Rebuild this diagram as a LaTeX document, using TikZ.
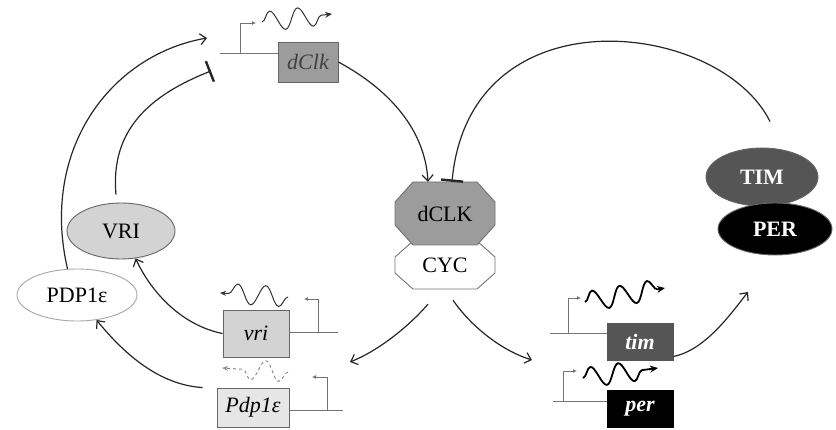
\documentclass[tikz,border=0pt]{standalone}
\usepackage{fontspec}
\setmainfont{Liberation Serif}
\usetikzlibrary{arrows.meta,decorations.pathmorphing,shapes.geometric,calc}
\definecolor{clkgray}{HTML}{9C9C9C}
\definecolor{vrigray}{HTML}{D3D3D3}
\definecolor{pdpgray}{HTML}{E6E6E6}
\definecolor{timgray}{HTML}{555555}
\begin{document}
\begin{tikzpicture}[x=1pt,y=-1pt,
  lbl/.style={font=\fontsize{22}{24}\selectfont, inner sep=0pt},
  gene/.style={draw=black!60, line width=0.9pt, inner sep=0pt, font=\fontsize{22}{24}\selectfont\itshape},
  prot/.style={ellipse, draw=black!60, line width=0.9pt, inner sep=0pt, font=\fontsize{22}{24}\selectfont},
  act/.style={draw=black!85, line width=1.2pt, -{Straight Barb[length=6pt,width=11pt]}},
  inh/.style={draw=black!85, line width=1.2pt, -{Bar[width=22pt,line width=2.4pt]}},
  prom/.style={draw=black!55, line width=0.9pt},
  promtip/.style={prom, -{Latex[length=4pt,width=4pt]}},
  wave/.style={decorate, decoration={snake, amplitude=10pt, segment length=28pt, post length=7pt}},
]
\useasboundingbox (0,0) rectangle (836,430);

% octagons
\filldraw[fill=white, draw=black!55, line width=0.9pt] (413,241) -- (477,241) -- (495,257) -- (495,273) -- (477,289) -- (413,289) -- (395,273) -- (395,257) -- cycle;
\filldraw[fill=clkgray, draw=black!55, line width=0.9pt] (413,182) -- (477,182) -- (495,202) -- (495,225) -- (477,245) -- (413,245) -- (395,225) -- (395,202) -- cycle;
\node[lbl, minimum width=100pt, minimum height=63pt] (dCLK) at (445,213.5) {dCLK};
\node[lbl, minimum width=100pt, minimum height=48pt] (CYC) at (445,265) {CYC};

% proteins
\node[prot, fill=timgray, minimum width=112pt, minimum height=58pt, text=white, font=\fontsize{22}{24}\selectfont\bfseries] (TIM) at (762,177) {TIM};
\node[prot, fill=black, minimum width=114pt, minimum height=52pt, text=white, font=\fontsize{22}{24}\selectfont\bfseries] (PER) at (775,229) {PER};
\node[prot, fill=vrigray, minimum width=108pt, minimum height=56pt] (VRI) at (121,231) {VRI};
\node[prot, fill=white, draw=black!35, minimum width=120pt, minimum height=52pt] (PDP) at (77,295) {PDP1ε};

% genes
\node[gene, fill=clkgray, text=black!75, minimum width=60pt, minimum height=40pt] (dClk) at (308,62) {dClk};
\node[gene, fill=vrigray, minimum width=66pt, minimum height=47pt] (vri) at (256,333.5) {vri};
\node[gene, fill=pdpgray, minimum width=72pt, minimum height=39pt] (pdp) at (253,407.5) {Pdp1ε};
\node[gene, fill=timgray, draw=timgray, text=white, font=\fontsize{22}{24}\selectfont\bfseries\itshape, minimum width=66pt, minimum height=37pt] (tim) at (640,341.5) {tim};
\node[gene, fill=black, draw=black, text=white, font=\fontsize{22}{24}\selectfont\bfseries\itshape, minimum width=66pt, minimum height=37pt] (per) at (640,408.5) {per};

% promoters
\coordinate (pclkL) at (220,53);
\draw[prom] (pclkL) -- (pclkL -| dClk.west);
\draw[promtip] (240,53) -- (240,23) -- (256,23);
\coordinate (pvriR) at (338,332);
\draw[prom] (pvriR -| vri.east) -- (pvriR);
\draw[promtip] (318,332) -- (318,299) -- (304,299);
\coordinate (ppdpR) at (343,410);
\draw[prom] (ppdpR -| pdp.east) -- (ppdpR);
\draw[promtip] (327,410) -- (327,377) -- (312,377);
\coordinate (ptimL) at (550,333);
\draw[prom] (ptimL) -- (ptimL -| tim.west);
\draw[promtip] (568,333) -- (568,298) -- (581,298);
\coordinate (pperL) at (553,401);
\draw[prom] (pperL) -- (pperL -| per.west);
\draw[promtip] (563,401) -- (563,371) -- (577,371);

% transcripts
\draw[wave, draw=black!80, line width=1pt, -{Stealth[length=7pt,width=6pt]}] (262,22) -- (332,14);
\draw[wave, draw=black!80, line width=1pt, -{Stealth[length=6pt,width=5pt]}] (288,297) -- (220,293);
\draw[wave, draw=black!45, line width=1pt, dashed, -{Stealth[length=6pt,width=5pt]}] (288,372) -- (222,368);
\draw[wave, draw=black, line width=1.8pt, -{Stealth[length=8pt,width=7pt]}] (585,302) -- (665,288);
\draw[wave, draw=black, line width=1.8pt, -{Stealth[length=8pt,width=7pt]}] (583,378) -- (658,368);

% regulation
\draw[act] (dClk.east) .. controls (390,90) and (425,130) .. ([xshift=-17pt]dCLK.north);
\draw[inh] ([xshift=8pt,yshift=26pt]TIM.north) .. controls (720,20) and (470,-10) .. ([xshift=7pt]dCLK.north);
\draw[act] ([xshift=-17pt,yshift=-15pt]CYC.south) .. controls (410,325) and (380,350) .. (350,362);
\draw[act] ([xshift=8pt,yshift=-11pt]CYC.south) .. controls (470,325) and (500,350) .. (532,360);
\draw[act] ([yshift=-15pt]tim.east) .. controls (705,350) and (730,315) .. (748,292);
\draw[act] (vri.west) .. controls (180,325) and (150,290) .. (VRI.-62);
\draw[act] ([xshift=-14pt]pdp.north west) .. controls (160,385) and (125,355) .. (PDP.-52);
\draw[act] (PDP.110) .. controls (40,150) and (110,55) .. (207,38);
\draw[inh] ([yshift=8pt]VRI.100) .. controls (110,130) and (150,95) .. (211,71);
\end{tikzpicture}
\end{document}
